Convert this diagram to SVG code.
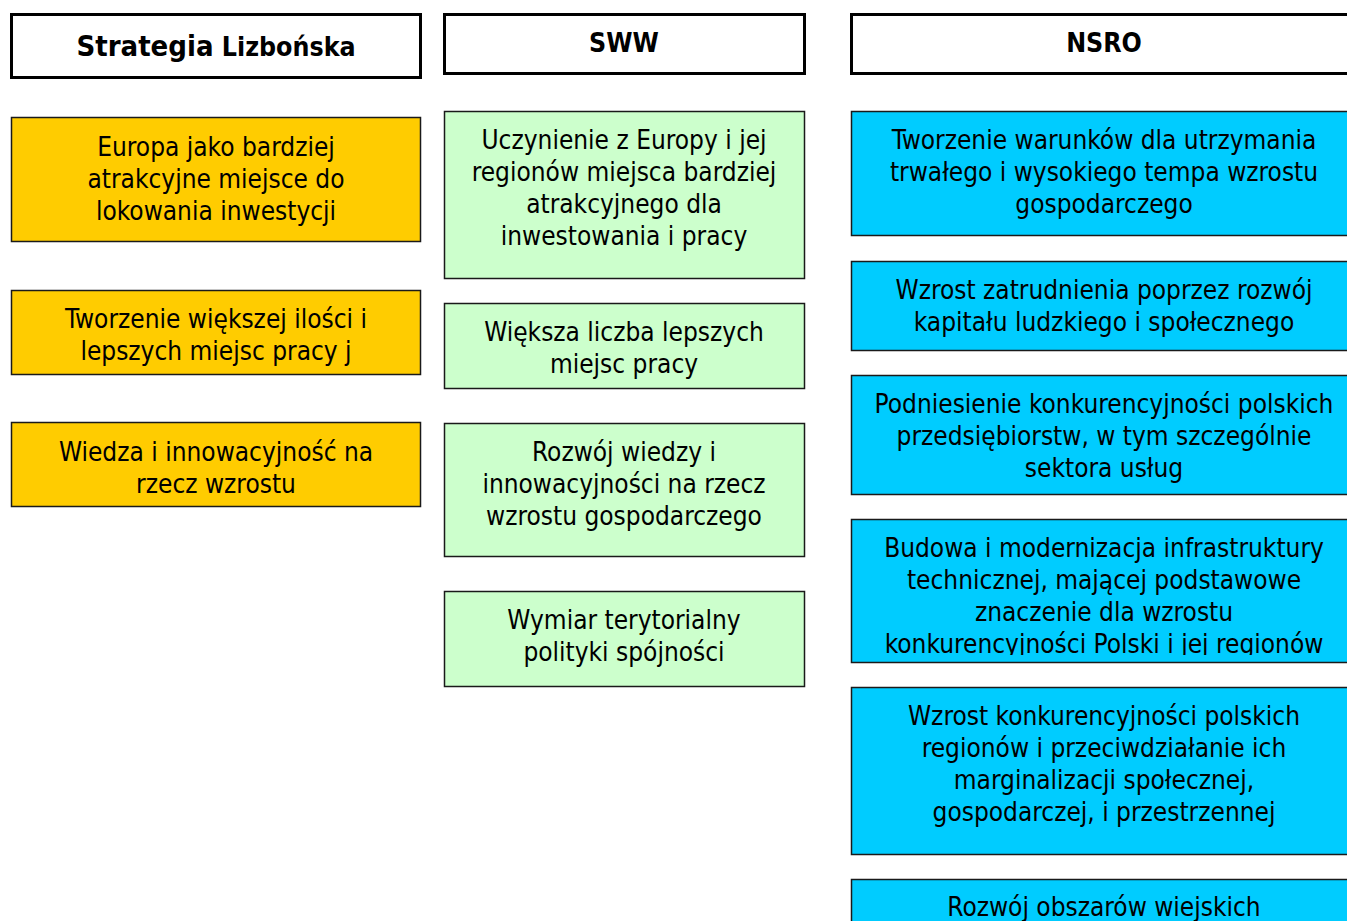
<svg xmlns="http://www.w3.org/2000/svg" width="1347" height="921" viewBox="0 0 1347 921">
<style>
.hdr{fill:#fff;stroke:#000;stroke-width:3}
.box{stroke:#1a1a1a;stroke-width:1.5}
.y{fill:#FFCC00}
.g{fill:#CCFFCC}
.c{fill:#00CCFF}
text{font-family:"DejaVu Sans Condensed","DejaVu Sans",Verdana,sans-serif;font-stretch:condensed;fill:#000;text-anchor:middle}
.t{font-size:26px}
.h{font-size:26.5px;font-weight:bold}
</style>
<defs>
<clipPath id="clip4"><rect x="851" y="519" width="496" height="136"/></clipPath>
</defs>
<rect width="1347" height="921" fill="#fff"/>
<g id="hdr-lisbon">
<rect class="hdr" x="11.5" y="14.5" width="409" height="63"/>
<text class="h" x="216" y="56"><tspan font-size="29">Strategia</tspan> Lizbońska</text>
</g>
<g id="hdr-sww">
<rect class="hdr" x="444.5" y="14.5" width="360" height="59"/>
<text class="h" x="624" y="52">SWW</text>
</g>
<g id="hdr-nsro">
<rect class="hdr" x="851.5" y="14.5" width="500" height="59"/>
<text class="h" x="1104" y="52">NSRO</text>
</g>

<g id="l1"><rect class="box y" x="11.5" y="117.5" width="409" height="124"/>
<text class="t"><tspan x="216" y="156">Europa jako bardziej</tspan><tspan x="216" y="188">atrakcyjne miejsce do</tspan><tspan x="216" y="220">lokowania inwestycji</tspan></text></g>
<g id="l2"><rect class="box y" x="11.5" y="290.5" width="409" height="84"/>
<text class="t"><tspan x="216" y="328">Tworzenie większej ilości i</tspan><tspan x="216" y="360">lepszych miejsc pracy j</tspan></text></g>
<g id="l3"><rect class="box y" x="11.5" y="422.5" width="409" height="84"/>
<text class="t"><tspan x="216" y="461">Wiedza i innowacyjność na</tspan><tspan x="216" y="493">rzecz wzrostu</tspan></text></g>

<g id="m1"><rect class="box g" x="444.5" y="111.5" width="360" height="167"/>
<text class="t"><tspan x="624" y="149">Uczynienie z Europy i jej</tspan><tspan x="624" y="181">regionów miejsca bardziej</tspan><tspan x="624" y="213">atrakcyjnego dla</tspan><tspan x="624" y="245">inwestowania i pracy</tspan></text></g>
<g id="m2"><rect class="box g" x="444.5" y="303.5" width="360" height="85"/>
<text class="t"><tspan x="624" y="341">Większa liczba lepszych</tspan><tspan x="624" y="373">miejsc pracy</tspan></text></g>
<g id="m3"><rect class="box g" x="444.5" y="423.5" width="360" height="133"/>
<text class="t"><tspan x="624" y="461">Rozwój wiedzy i</tspan><tspan x="624" y="493">innowacyjności na rzecz</tspan><tspan x="624" y="525">wzrostu gospodarczego</tspan></text></g>
<g id="m4"><rect class="box g" x="444.5" y="591.5" width="360" height="95"/>
<text class="t"><tspan x="624" y="629">Wymiar terytorialny</tspan><tspan x="624" y="661">polityki spójności</tspan></text></g>

<g id="r1"><rect class="box c" x="851.5" y="111.5" width="500" height="124"/>
<text class="t"><tspan x="1104" y="149">Tworzenie warunków dla utrzymania</tspan><tspan x="1104" y="181">trwałego i wysokiego tempa wzrostu</tspan><tspan x="1104" y="213">gospodarczego</tspan></text></g>
<g id="r2"><rect class="box c" x="851.5" y="261.5" width="500" height="89"/>
<text class="t"><tspan x="1104" y="299">Wzrost zatrudnienia poprzez rozwój</tspan><tspan x="1104" y="331">kapitału ludzkiego i społecznego</tspan></text></g>
<g id="r3"><rect class="box c" x="851.5" y="375.5" width="500" height="119"/>
<text class="t"><tspan x="1104" y="413">Podniesienie konkurencyjności polskich</tspan><tspan x="1104" y="445">przedsiębiorstw, w tym szczególnie</tspan><tspan x="1104" y="477">sektora usług</tspan></text></g>
<g id="r4"><rect class="box c" x="851.5" y="519.5" width="500" height="143"/>
<text class="t" clip-path="url(#clip4)"><tspan x="1104" y="557">Budowa i modernizacja infrastruktury</tspan><tspan x="1104" y="589">technicznej, mającej podstawowe</tspan><tspan x="1104" y="621">znaczenie dla wzrostu</tspan><tspan x="1104" y="653">konkurencyjności Polski i jej regionów</tspan></text></g>
<g id="r5"><rect class="box c" x="851.5" y="687.5" width="500" height="167"/>
<text class="t"><tspan x="1104" y="725">Wzrost konkurencyjności polskich</tspan><tspan x="1104" y="757">regionów i przeciwdziałanie ich</tspan><tspan x="1104" y="789">marginalizacji społecznej,</tspan><tspan x="1104" y="821">gospodarczej, i przestrzennej</tspan></text></g>
<g id="r6"><rect class="box c" x="851.5" y="879.5" width="500" height="60"/>
<text class="t"><tspan x="1104" y="916">Rozwój obszarów wiejskich</tspan></text></g>
<g id="connectors"/>
</svg>
